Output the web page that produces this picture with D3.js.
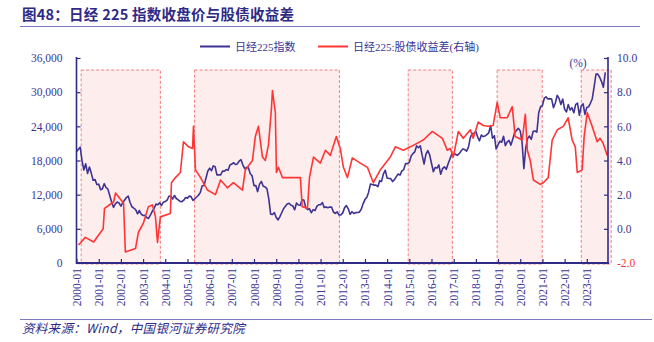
<!DOCTYPE html>
<html><head><meta charset="utf-8">
<script src="https://cdn.jsdelivr.net/npm/d3@7"></script>
<style>body{margin:0;background:#fff}svg{display:block}</style>
</head><body><svg id="c" width="654" height="342"></svg>
<script>
const title = "图48：日经 225 指数收盘价与股债收益差";
const source = "资料来源：Wind，中国银河证券研究院";
const seriesNames = ["日经225指数", "日经225:股债收益差(右轴)"];
const xTickLabels = d3.range(2000, 2024).map(y => y + "-01");
const leftTicks = [0, 6000, 12000, 18000, 24000, 30000, 36000];
const rightTicks = [-2, 0, 2, 4, 6, 8, 10];
// Nikkei 225 monthly closes, 2000-01 .. 2023-11
const nikkeiStart = "2000-01";
const nikkei = [
19540,19960,20337,17974,16332,17411,15727,16861,15747,14539,14649,13786,
13844,12884,12999,13934,13262,12969,11861,10714,9775,10367,10697,10543,
9998,10588,11025,11493,11764,10622,9878,9620,9383,8640,9216,8579,
8340,8363,7973,7831,8425,9083,9563,10344,10219,10560,10101,10677,
10784,11042,11715,11762,11236,11859,11326,11082,10824,10771,11033,11489,
11388,11741,11669,11009,11277,11584,11900,12414,13574,13607,14872,16111,
16650,16205,17060,16906,15467,15505,15457,16141,16128,16399,16274,17226,
17383,17604,17288,17400,17876,18138,17249,16569,16786,16737,15681,15308,
13592,13603,12526,13850,14339,13481,13377,13073,11260,8577,8512,8860,
7994,7568,8110,8828,9523,9958,10357,10493,10133,10035,9346,10546,
10198,10126,11090,11057,9769,9383,9537,8824,9369,9202,9937,10229,
10238,10624,9755,9850,9694,9816,9833,8955,8700,8988,8435,8455,
8803,9723,10084,9521,8543,9007,8695,8840,8870,8928,9446,10395,
11139,11559,12398,13861,13775,13677,13668,13389,14456,14328,15662,16291,
14915,14841,14828,14304,14632,15162,15621,15425,16174,16414,17460,17451,
17674,18798,19207,19520,20563,20236,20585,18890,17388,19083,19747,19034,
17518,16027,16759,16666,17235,15576,16569,16887,16450,17425,18308,19114,
19041,19119,18909,19197,19651,20033,19925,19646,20356,22012,22725,22765,
23098,22068,21454,22468,22202,22305,22554,22865,24120,21920,22351,20015,
20773,21385,21206,22259,20601,21276,21522,20704,21756,22927,23294,23657,
23205,21143,16553,20194,21878,22288,21710,23140,23185,22977,26434,27444,
27663,28966,29179,28813,28860,28792,27284,28090,29453,28893,27822,28792,
27002,26527,27821,26848,27280,26393,27802,28092,25937,27587,27969,26095,
27327,27446,28041,28856,30888,33189,33172,32619,31858,30859,33487];
// equity-bond yield spread (%) (decimal year, value)
const spreadT = [2000.09,2000.4,2000.77,2001.2,2001.26,2001.67,2001.76,2002.12,2002.2,2002.66,2002.79,2003.02,2003.24,2003.42,2003.56,2003.65,2003.78,2004.23,2004.28,2004.46,2004.68,2004.82,2005.05,2005.23,2005.27,2005.36,2005.59,2005.9,2006.26,2006.49,2006.8,2007.07,2007.48,2007.61,2007.93,2008.06,2008.2,2008.38,2008.51,2008.65,2008.78,2008.83,2008.96,2009.01,2009.1,2009.28,2010.09,2010.17,2010.41,2010.5,2010.68,2010.99,2011.22,2011.44,2011.71,2011.89,2012.03,2012.21,2012.43,2012.79,2013.11,2013.38,2013.69,2014.14,2014.37,2014.73,2015.05,2015.63,2016.04,2016.49,2016.71,2016.85,2016.98,2017.21,2017.43,2017.75,2017.88,2018.11,2018.33,2018.56,2018.78,2018.96,2019.1,2019.41,2019.64,2019.77,2020.09,2020.23,2020.32,2020.45,2020.59,2020.9,2021.04,2021.26,2021.44,2021.67,2021.94,2022.16,2022.34,2022.48,2022.57,2022.79,2022.88,2023.02,2023.24,2023.47,2023.6,2023.74,2023.92];
const spread = [-0.95,-0.5,-0.77,0.0,1.2,1.57,2.1,1.5,-1.35,-1.15,-0.2,0.35,1.3,1.4,0.7,-0.8,0.7,0.9,2.7,3.0,3.3,5.1,4.8,4.7,6.0,3.45,3.0,2.27,2.0,2.86,2.4,2.7,2.27,3.45,4.0,5.4,6.0,4.2,4.0,4.9,6.95,8.1,6.8,3.3,3.6,3.0,3.0,1.3,1.2,3.0,4.2,3.85,4.6,4.3,5.4,4.7,3.6,3.0,4.15,3.85,3.6,2.7,3.45,4.2,4.8,4.6,4.8,5.2,5.7,5.3,4.6,4.7,4.2,5.7,5.3,5.8,5.3,6.25,6.05,6.0,6.05,7.4,6.5,6.5,7.15,5.4,5.2,6.7,4.6,4.0,2.86,2.6,2.7,3.0,5.2,5.8,6.0,6.5,5.2,4.8,3.3,3.45,5.4,6.8,6.0,5.1,5.3,5.0,4.3];
// shaded periods (decimal years)
const periodStart = [2000.21, 2005.32, 2014.95, 2018.96, 2022.75];
const periodEnd   = [2003.78, 2011.85, 2016.94, 2020.99, 2024.1];

const NAVY = "#2e2a86", TXT = "#3b3593", RED = "#ff3535", BLUE = "#3e3393";
const svg = d3.select("#c");
const dec = v => { const y = Math.floor(v); const s = new Date(y,0,1), e = new Date(y+1,0,1); return new Date(+s + (v-y)*(e-s)); };
const x = d3.scaleTime().domain([new Date(2000,0,1), new Date(2023,11,16)]).range([76.5, 608]);
const yL = d3.scaleLinear().domain([0, 36000]).range([263, 58]);
const yR = d3.scaleLinear().domain([-2, 10]).range([263, 58]);
const serif = "'Liberation Serif','Noto Sans CJK SC',serif";

// title
svg.append("text").attr("x", 22).attr("y", 20).attr("font-family", "'Noto Sans CJK SC',sans-serif")
  .attr("font-weight", "bold").attr("font-size", 14.5).attr("letter-spacing", 0.25).attr("fill", NAVY).text(title);
svg.append("line").attr("x1", 20).attr("x2", 640).attr("y1", 26.5).attr("y2", 26.5).attr("stroke", "#7d79c4").attr("stroke-width", 1);

// shaded periods
svg.append("g").selectAll("rect").data(periodStart).join("rect")
  .attr("x", (d) => x(dec(d))).attr("y", 70)
  .attr("width", (d, i) => x(dec(periodEnd[i])) - x(dec(d))).attr("height", 194)
  .attr("fill", "#fdeded").attr("stroke", "#f47d7d").attr("stroke-width", 1).attr("stroke-dasharray", "3,2");

// lines
const t0 = d3.timeParse("%Y-%m")(nikkeiStart);
const nikData = nikkei.map((v, i) => [d3.timeMonth.offset(t0, i), v]);
svg.append("path").datum(nikData).attr("fill", "none").attr("stroke", BLUE).attr("stroke-width", 1.6)
  .attr("stroke-linejoin", "round").attr("d", d3.line().x(d => x(d[0])).y(d => yL(d[1])));
const spData = spread.map((v, i) => [dec(spreadT[i]), v]);
svg.append("path").datum(spData).attr("fill", "none").attr("stroke", RED).attr("stroke-width", 1.6)
  .attr("stroke-linejoin", "round").attr("d", d3.line().x(d => x(d[0])).y(d => yR(d[1])));

// axes
const styleAxis = g => { g.select(".domain").remove(); g.selectAll(".tick line").attr("stroke", NAVY).attr("stroke-width", 1.2); };
const gL = svg.append("g").attr("transform", "translate(76.5,0)")
  .call(d3.axisRight(yL).tickValues(leftTicks).tickSize(4).tickFormat(d3.format(",")));
styleAxis(gL);
gL.selectAll(".tick text").attr("x", -14).attr("text-anchor", "end").attr("font-family", serif).attr("font-size", 11.5).attr("fill", TXT);
const gR = svg.append("g").attr("transform", "translate(608,0)")
  .call(d3.axisLeft(yR).tickValues(rightTicks).tickSize(4).tickFormat(d3.format(".1f")));
styleAxis(gR);
gR.selectAll(".tick text").attr("x", 9).attr("text-anchor", "start").attr("font-family", serif).attr("font-size", 11.5)
  .attr("fill", d => d === -2 ? RED : TXT).text(d => d === -2 ? "-2.0" : d3.format(".1f")(d));
const gX = svg.append("g").attr("transform", "translate(0,263)")
  .call(d3.axisTop(x).tickValues(xTickLabels.map(s => d3.timeParse("%Y-%m")(s))).tickSize(4).tickFormat(d3.timeFormat("%Y-%m")));
styleAxis(gX);
gX.selectAll(".tick text").attr("transform", "rotate(-90)").attr("x", -5).attr("y", 0).attr("dy", "0.35em")
  .attr("text-anchor", "end").attr("font-family", serif).attr("font-size", 11.5).attr("fill", TXT);
svg.append("line").attr("x1", 76.5).attr("x2", 76.5).attr("y1", 57).attr("y2", 264).attr("stroke", NAVY).attr("stroke-width", 1.6);
svg.append("line").attr("x1", 608).attr("x2", 608).attr("y1", 57).attr("y2", 264).attr("stroke", NAVY).attr("stroke-width", 1.6);
svg.append("line").attr("x1", 76).attr("x2", 609).attr("y1", 263).attr("y2", 263).attr("stroke", NAVY).attr("stroke-width", 2);
svg.append("text").attr("x", 578).attr("y", 67).attr("text-anchor", "middle").attr("font-family", serif).attr("font-size", 11.5).attr("fill", TXT).text("(%)");

// legend
const leg = svg.append("g").attr("font-family", serif).attr("font-size", 11).attr("fill", TXT);
[[200, BLUE, 0], [318, RED, 1]].forEach(([lx, c, i]) => {
  leg.append("line").attr("x1", lx).attr("x2", lx + 30).attr("y1", 46.5).attr("y2", 46.5).attr("stroke", c).attr("stroke-width", 2);
  leg.append("text").attr("x", lx + 35).attr("y", 50.5).text(seriesNames[i]);
});

// footer
svg.append("line").attr("x1", 20).attr("x2", 652).attr("y1", 319.5).attr("y2", 319.5).attr("stroke", "#7d79c4").attr("stroke-width", 1);
svg.append("text").attr("x", 22).attr("y", 333).attr("font-family", "'Noto Sans CJK SC',sans-serif").attr("font-style", "italic")
  .attr("font-size", 12.5).attr("letter-spacing", 0.3).attr("fill", NAVY).text(source);
</script></body></html>
